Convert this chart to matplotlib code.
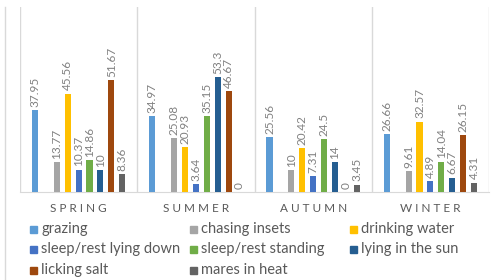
import numpy as np
import matplotlib.pyplot as plt
from matplotlib.patches import Rectangle
from matplotlib.lines import Line2D

plt.rcParams['font.family'] = ['Lato', 'DejaVu Sans']

seasons = ['SPRING', 'SUMMER', 'AUTUMN', 'WINTER']
behaviours = ['grazing', 'chasing insets', 'drinking water',
              'sleep/rest lying down', 'sleep/rest standing', 'lying in the sun',
              'licking salt', 'mares in heat']
grazing = [37.95, 34.97, 25.56, 26.66]
chasing = [13.77, 25.08, 10, 9.61]
drinking = [45.56, 20.93, 20.42, 32.57]
lying_down = [10.37, 3.64, 7.31, 4.89]
standing = [14.86, 35.15, 24.5, 14.04]
lying_sun = [10, 53.3, 14, 6.67]
licking = [51.67, 46.67, 0, 26.15]
mares = [8.36, 0, 3.45, 4.31]
series = [grazing, chasing, drinking, lying_down, standing, lying_sun, licking, mares]
colors = ['#5B9BD5', '#A5A5A5', '#FFC000', '#4472C4', '#70AD47', '#255E91',
          '#9E480E', '#636363']
# slot 1 is left empty in the original chart (hidden series)
slots = [0, 2, 3, 4, 5, 6, 7, 8]

W, H = 499, 280
fig = plt.figure(figsize=(W / 100, H / 100), dpi=100)
ax = fig.add_axes([20 / W, (H - 192) / H, 469 / W, 185 / H])

step = 0.093
bw = 0.052
for vals, col, s in zip(series, colors, slots):
    x = np.arange(len(seasons)) + 0.5 + (s - 4) * step
    ax.bar(x, vals, width=bw, color=col, zorder=3)
    for xi, v in zip(x, vals):
        ax.text(xi, v + 1.5, f'{v:g}', rotation=90, ha='center', va='bottom',
                fontsize=8.5, color='#808080')

ax.set_xlim(0, 4)
ax.set_ylim(0, 85.6)
ax.set_yticks([])
ax.set_xticks([])
for s in ['top', 'right', 'left']:
    ax.spines[s].set_visible(False)
ax.spines['bottom'].set_color('#D9D9D9')
for xv in range(5):
    ax.axvline(xv, color='#D9D9D9', lw=1, zorder=1)

for i, name in enumerate(seasons):
    fig.text((20 + (i + 0.5) * 469 / 4) / W, 1 - 209 / H, ' '.join(name),
             ha='center', va='center', fontsize=8.5, color='#595959')

# legend, laid out row by row like the original
for k, (name, col) in enumerate(zip(behaviours, colors)):
    r, c = divmod(k, 3)
    xm = 30 + c * 160
    ym = 229 + r * 20.5
    fig.patches.append(Rectangle((xm / W, 1 - (ym + 3.5) / H), 7 / W, 7 / H,
                                 transform=fig.transFigure, color=col))
    fig.text((xm + 11) / W, 1 - ym / H, name, ha='left', va='center',
             fontsize=10.5, color='#595959')

fig.lines.append(Line2D([5 / W, 5 / W], [0, 1 - 7 / H], transform=fig.transFigure,
                        color='#D9D9D9', lw=1))

fig.savefig('out.png', dpi=100)
